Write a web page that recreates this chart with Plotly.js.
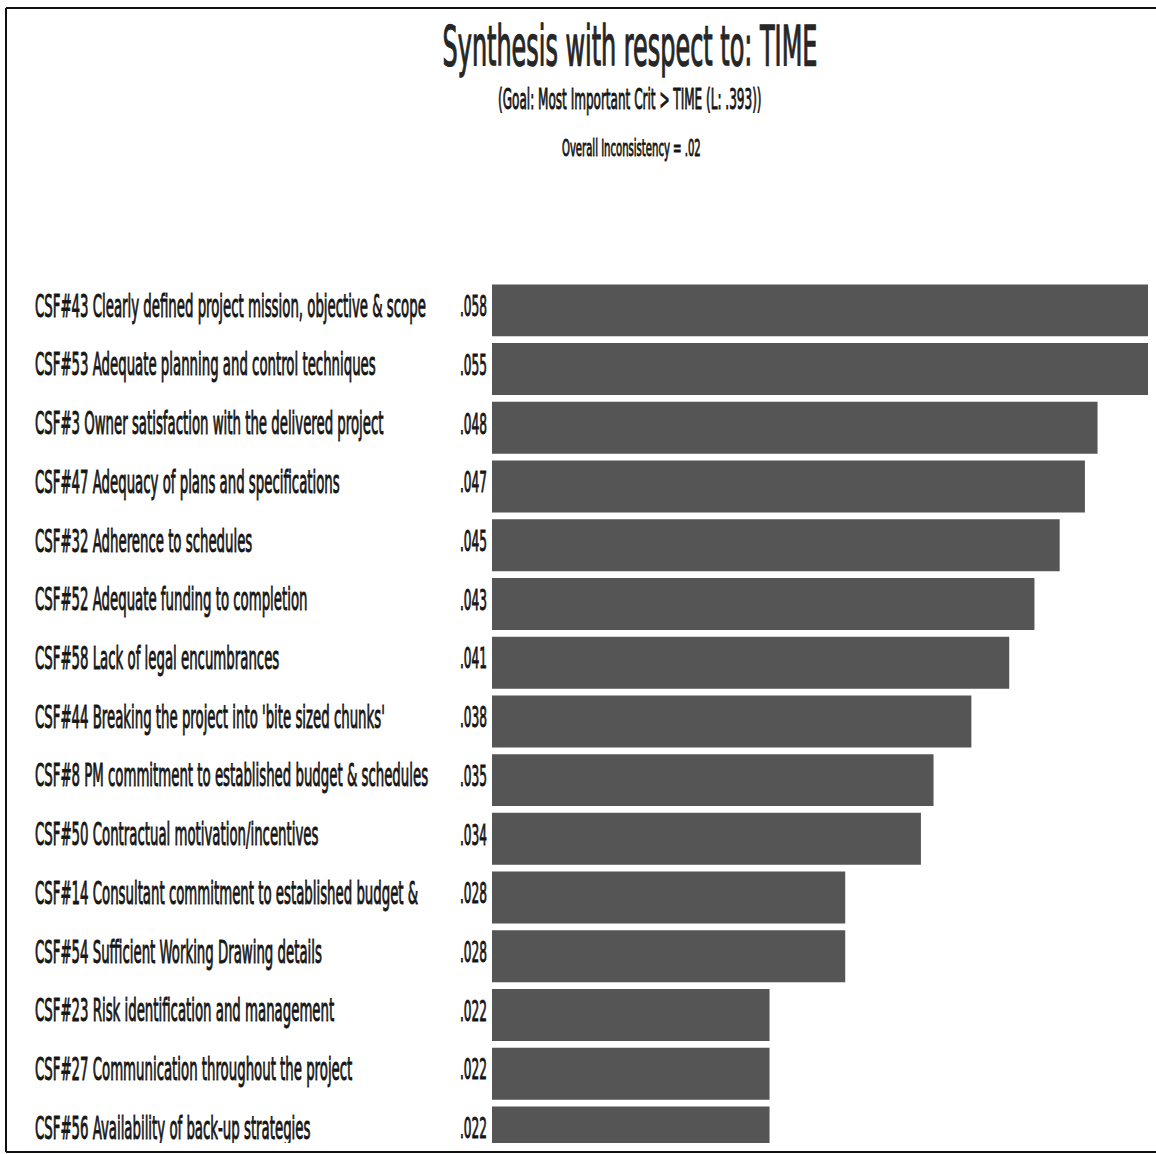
<!DOCTYPE html>
<html>
<head>
<meta charset="utf-8">
<script src="https://cdn.plot.ly/plotly-3.0.1.min.js"></script>
<style>
  html, body { margin: 0; padding: 0; background: #fff; }
  #chart { width: 1156px; height: 1154px; }
  /* tall, condensed, heavy lettering */
  #chart .textpoint text,
  #chart .gtitle,
  #chart .annotation-text {
    transform-box: fill-box;
    transform-origin: center;
    transform: scaleY(2.1);
    stroke: #161616;
    stroke-width: 0.45px;
  }
  #chart .gtitle { stroke: #262626; stroke-width: 0.6px; }
  #chart .textpoint text {
    transform: translateY(-3px) scaleY(2.1);
  }
</style>
</head>
<body>
<div id="chart"></div>
<script>
// Criteria, ordered from highest to lowest priority
const categories = [
  "CSF#43 Clearly defined project mission, objective & scope",
  "CSF#53 Adequate planning and control techniques",
  "CSF#3 Owner satisfaction with the delivered project",
  "CSF#47 Adequacy of plans and specifications",
  "CSF#32 Adherence to schedules",
  "CSF#52 Adequate funding to completion",
  "CSF#58 Lack of legal encumbrances",
  "CSF#44 Breaking the project into 'bite sized chunks'",
  "CSF#8 PM commitment to established budget & schedules",
  "CSF#50 Contractual motivation/incentives",
  "CSF#14 Consultant commitment to established budget &",
  "CSF#54 Sufficient Working Drawing details",
  "CSF#23 Risk identification and management",
  "CSF#27 Communication throughout the project",
  "CSF#56 Availability of back-up strategies"
];

// Local priorities with respect to TIME
const values = [0.058, 0.055, 0.048, 0.047, 0.045, 0.043, 0.041, 0.038, 0.035, 0.034, 0.028, 0.028, 0.022, 0.022, 0.022];

// Priority labels in the ".058" style
const valueLabels = values.map(v => v.toFixed(3).replace(/^0/, ""));

const chartTitle = "Synthesis with respect to: TIME";
const goalLine = "(Goal: Most Important Crit > TIME (L: .393))";
const inconsistencyLine = "Overall Inconsistency = .02";

// ---- layout geometry (pixels) ----
const W = 1156, H = 1154;
const M = { l: 0, r: 8, t: 281, b: 11 };
const plotW = W - M.l - M.r;              // 1148
const plotH = H - M.t - M.b;              // 862
const barLeftPx = 492;                    // where the bar column begins
const split = barLeftPx / plotW;
const FONT = '"Liberation Sans Narrow", "DejaVu Sans Condensed", "Arial Narrow", sans-serif';
const INK = "#161616";

// paper-coordinate helpers for the frame and the heading lines
const px2x = px => (px - M.l) / plotW;
const px2y = py => (H - M.b - py) / plotH;

const bars = {
  type: "bar",
  orientation: "h",
  x: values,
  y: categories,
  xaxis: "x",
  yaxis: "y",
  marker: { color: "#555555", line: { width: 0 } },
  hoverinfo: "x+y"
};

const labelText = {
  type: "scatter",
  mode: "text",
  x: categories.map(() => 35),
  y: categories,
  text: categories,
  textposition: "middle right",
  textfont: { family: FONT, size: 14.8, color: INK },
  xaxis: "x2",
  yaxis: "y",
  cliponaxis: true,
  hoverinfo: "skip"
};

const valueText = {
  type: "scatter",
  mode: "text",
  x: categories.map(() => 487),
  y: categories,
  text: valueLabels,
  textposition: "middle left",
  textfont: { family: FONT, size: 13.5, color: INK },
  xaxis: "x2",
  yaxis: "y",
  cliponaxis: true,
  hoverinfo: "skip"
};

const frameLine = { type: "line", xref: "paper", yref: "paper", line: { color: "#111", width: 2 } };

const layout = {
  width: W,
  height: H,
  margin: M,
  paper_bgcolor: "#fff",
  plot_bgcolor: "#fff",
  showlegend: false,
  bargap: 0.115,
  font: { family: FONT, color: INK },
  title: {
    text: chartTitle,
    xref: "container", yref: "container",
    x: 630 / W, xanchor: "center",
    y: 1 - 45 / H, yanchor: "middle",
    font: { family: FONT, size: 26.6, color: "#262626" }
  },
  xaxis: {
    domain: [split, 1],
    range: [0, 0.052],
    visible: false,
    fixedrange: true
  },
  xaxis2: {
    domain: [0, split],
    range: [0, barLeftPx],
    anchor: "y",
    visible: false,
    fixedrange: true
  },
  yaxis: {
    type: "category",
    range: [14.18, -0.5],
    visible: false,
    fixedrange: true
  },
  annotations: [
    {
      text: goalLine, showarrow: false,
      xref: "paper", yref: "paper",
      x: px2x(630), y: px2y(100), xanchor: "center", yanchor: "middle",
      font: { family: FONT, size: 13.4, color: INK }
    },
    {
      text: inconsistencyLine, showarrow: false,
      xref: "paper", yref: "paper",
      x: px2x(631), y: px2y(148), xanchor: "center", yanchor: "middle",
      font: { family: FONT, size: 11.2, color: INK }
    }
  ],
  shapes: [
    Object.assign({}, frameLine, { x0: px2x(6), x1: px2x(6), y0: px2y(1152), y1: px2y(8) }),
    Object.assign({}, frameLine, { x0: px2x(6), x1: px2x(W), y0: px2y(8), y1: px2y(8) }),
    Object.assign({}, frameLine, { x0: px2x(6), x1: px2x(W), y0: px2y(1152), y1: px2y(1152) })
  ]
};

Plotly.newPlot("chart", [bars, labelText, valueText], layout, { displayModeBar: false, staticPlot: true });
</script>
</body>
</html>
